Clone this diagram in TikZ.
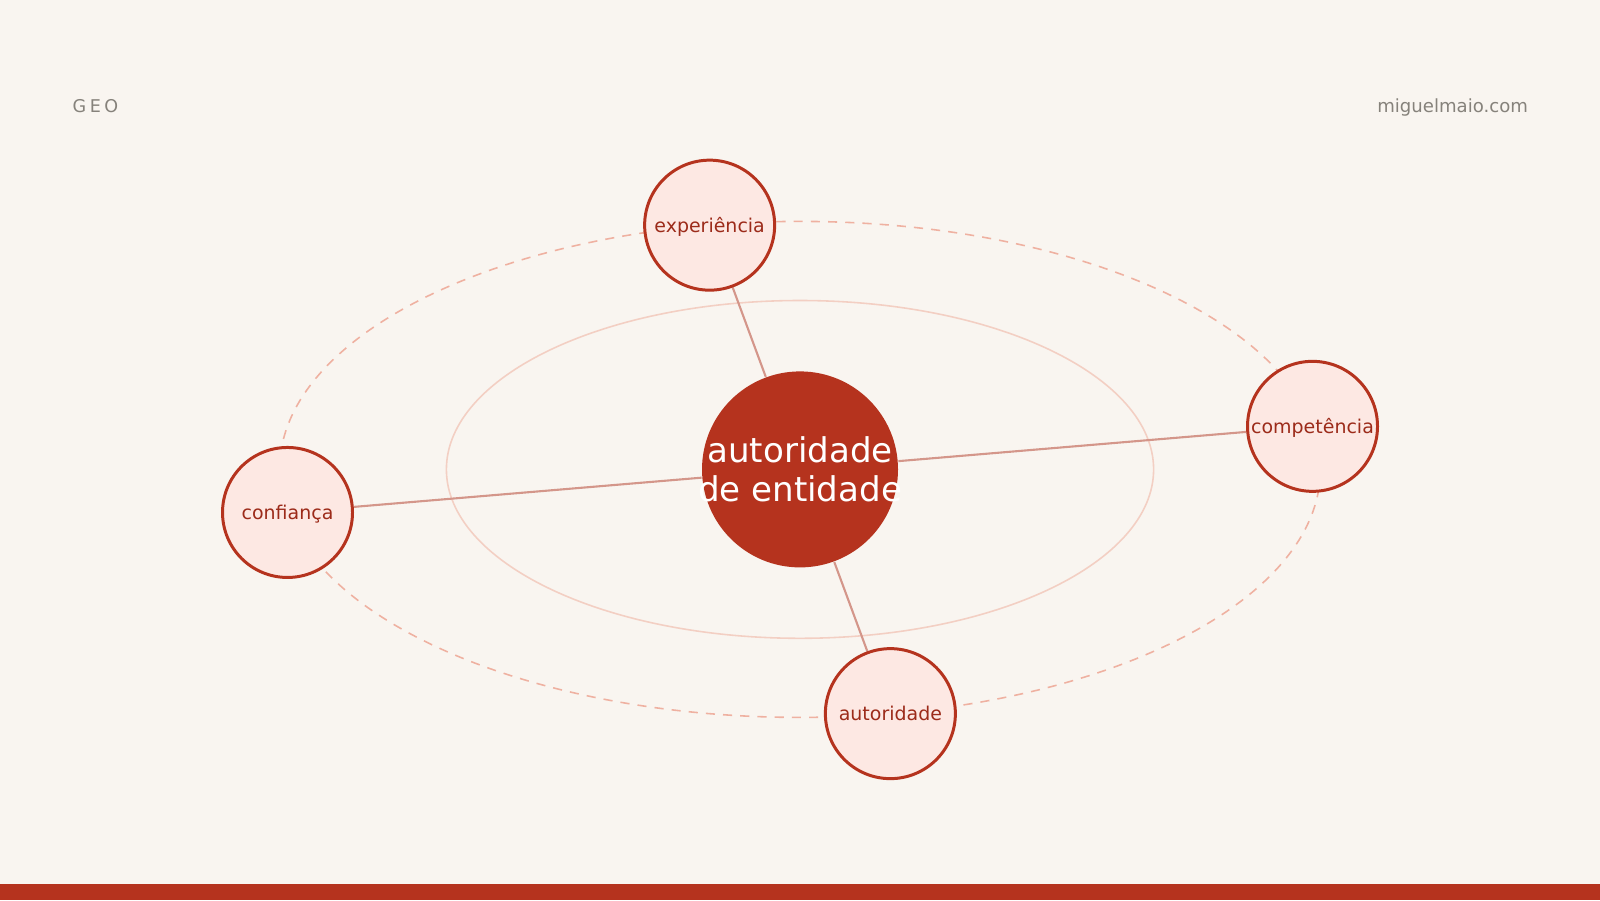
\documentclass[tikz,border=0pt]{standalone}
\usepackage{fontspec}
\setmainfont{DejaVu Sans}
\usetikzlibrary{calc, backgrounds}
\definecolor{paper}{HTML}{F9F5F0}
\definecolor{rust}{HTML}{B5331E}
\definecolor{rosefill}{HTML}{FDE8E3}
\definecolor{rusttext}{HTML}{9C2B1A}
\definecolor{spoke}{HTML}{D4968A}
\definecolor{ringin}{HTML}{F3CFC3}
\definecolor{ringout}{HTML}{EFB1A1}
\definecolor{muted}{HTML}{86827B}

\begin{document}
\begin{tikzpicture}[
    hub/.style={circle, fill=rust, text=white, minimum size=1.96cm, inner sep=0pt,
      align=center, font=\fontsize{9.7}{11.1}\selectfont},
    sat/.style={circle, draw=rust, line width=0.85pt, fill=rosefill, text=rusttext,
      minimum size=1.3cm, inner sep=0pt, text height=5.4pt, text depth=1.3pt,
      font=\fontsize{5.4}{6.5}\selectfont},
    orbit/.style={ringout, line width=0.45pt, dash pattern=on 2.6pt off 2.3pt},
    link/.style={spoke, line width=0.6pt}
  ]
            \useasboundingbox (0,0) rectangle (16,9);
            \coordinate (C) at (8,4.306);
            \node [hub] (hub) at (C) {\makebox[0pt]{autoridade}\\\makebox[0pt]{de entidade}};
            \foreach \Angle/\Name/\Text in {100/exp/experiência, 10/comp/competência,
                280/aut/autoridade, 190/conf/confiança}{
                \node [sat] (\Name) at ($(C)+(\Angle:5.204 and 2.48)$) {\Text};
            }
            \node [anchor=base west, inner sep=0pt, text=muted,
                font=\fontsize{5}{6}\selectfont\addfontfeature{LetterSpace=20}]
                (geo) at (0.72,7.875) {GEO};
            \node [anchor=base east, inner sep=0pt, text=muted, font=\fontsize{5.15}{6}\selectfont]
                (site) at (15.287,7.875) {miguelmaio.com};
            \begin{scope}[on background layer]
                \fill [paper] (0,0) rectangle (16,9);
                \fill [rust] (0,0) rectangle (16,0.16);
                \draw [ringin, line width=0.45pt] (C) ellipse [x radius=3.536, y radius=1.689];
                \draw [orbit] (C) ellipse [x radius=5.204, y radius=2.48];
                \foreach \Name in {exp, comp, aut, conf}{
                    \draw [link] (hub) -- (\Name);
                }
            \end{scope}
        \end{tikzpicture}
\end{document}
